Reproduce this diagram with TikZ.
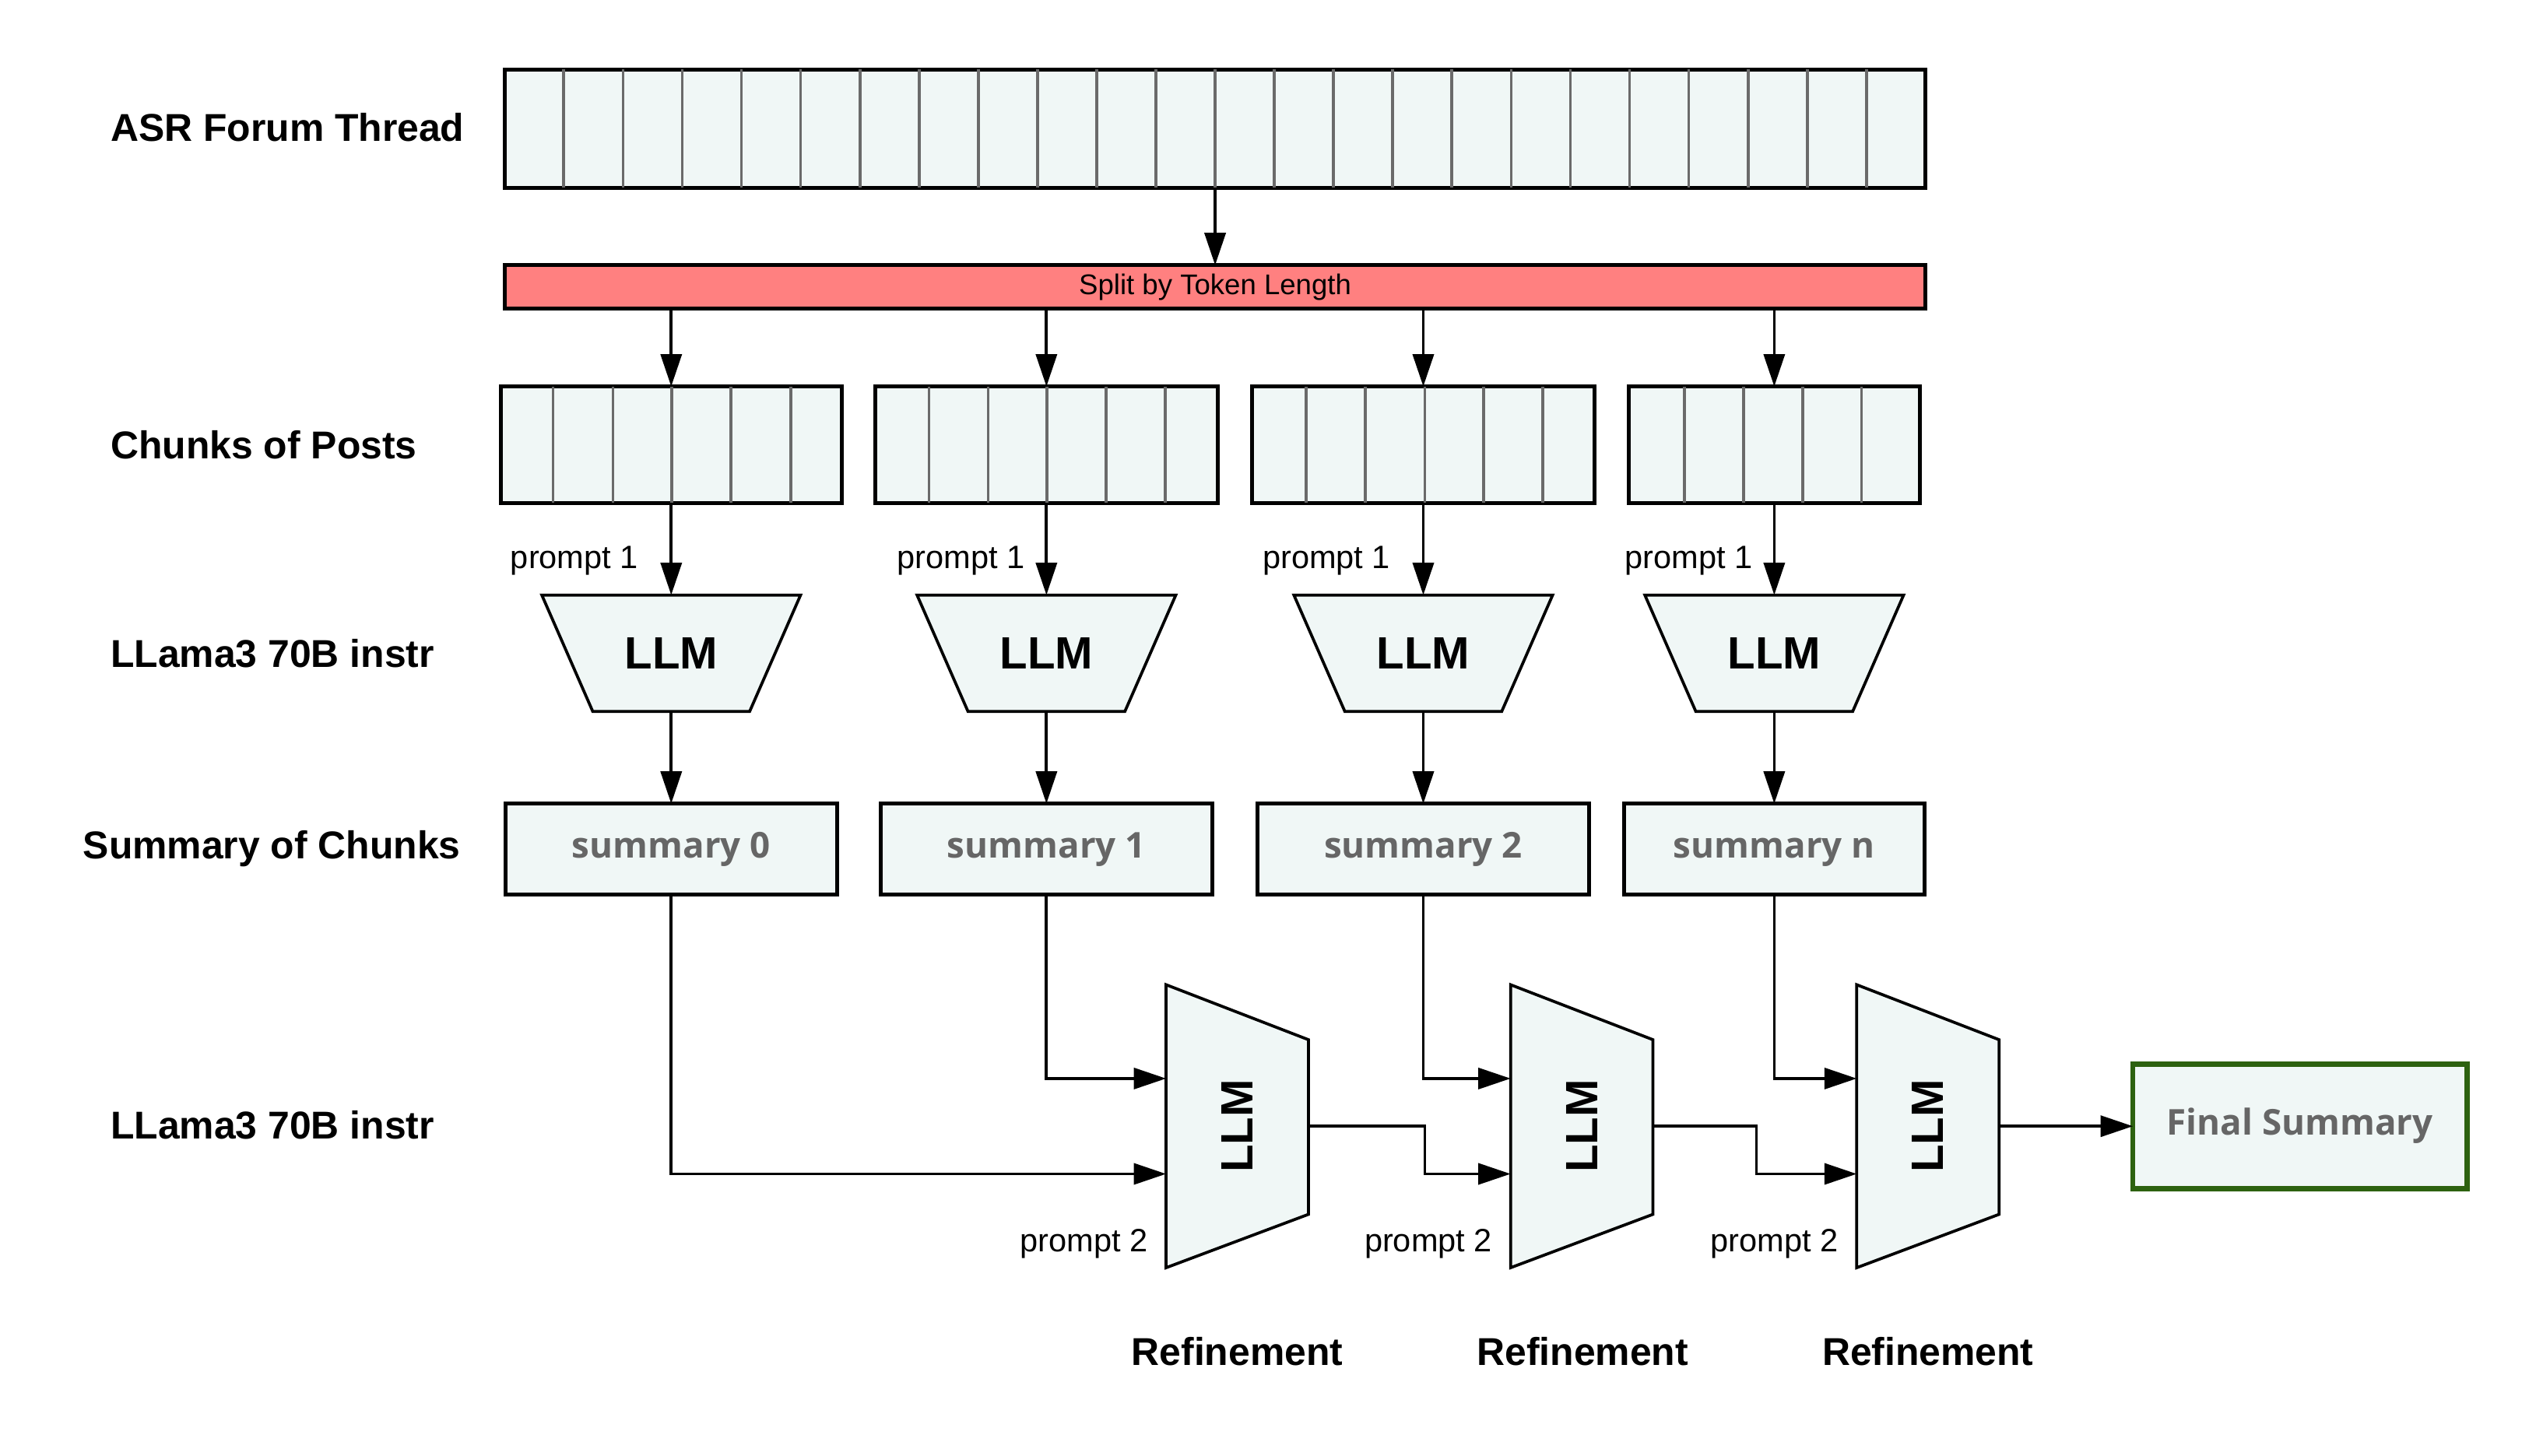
\documentclass[tikz,border=0pt]{standalone}
\usepackage{fontspec}
\usepackage{graphicx}
\setmainfont{Liberation Sans}
\newfontfamily\osans{Open Sans}
\usetikzlibrary{arrows.meta,calc,backgrounds}
\definecolor{cellfill}{HTML}{F0F7F6}
\definecolor{splitred}{HTML}{FF8080}
\definecolor{greytext}{HTML}{666666}
\definecolor{divgrey}{HTML}{6A6A6A}
\definecolor{finalgreen}{HTML}{2D6210}
\begin{document}
\begin{tikzpicture}[x=0.5pt,y=-0.5pt,
  box/.style={draw=black,line width=1.2pt,fill=cellfill,inner sep=0pt,outer sep=0pt},
  divline/.style={draw=divgrey,line width=0.9pt},
  arr/.style={draw=black,line width=0.9pt,-{Triangle[length=10pt,width=6.5pt]}},
  llmshape/.style={draw=black,line width=0.9pt,fill=cellfill,line join=miter},
  hollow/.style={inner sep=0pt,outer sep=0pt},
  rowlabel/.style={anchor=west,inner sep=0pt,font=\bfseries\fontsize{12}{14}\selectfont},
  plabel/.style={anchor=east,inner sep=0pt,font=\fontsize{10}{12}\selectfont},
  llmtext/.style={font=\bfseries\fontsize{14}{16}\selectfont},
  sumbox/.style={box,minimum height=28pt,font=\osans\bfseries\fontsize{11}{13}\selectfont,text=greytext,text height=8pt,text depth=2.5pt},
  reflabel/.style={inner sep=0pt,font=\bfseries\fontsize{12}{14}\selectfont}
]
\useasboundingbox (0,0) rectangle (1568,900);

% row labels
\node[rowlabel] (lab1) at (68,79) {ASR Forum Thread};
\node[rowlabel] (lab2) at (68,275) {Chunks of Posts};
\node[rowlabel] (lab3) at (68,404) {LLama3 70B instr};
\node[rowlabel] (lab4) at (51,525) {Summary of Chunks};
\node[rowlabel] (lab5) at (68,696) {LLama3 70B instr};

% top thread box
\node[box,minimum width=439.3pt,minimum height=36.5pt] (T) at (751.3,79.5) {};
\foreach \k in {1,...,23} {
  \draw[divline] ({312+\k*36.608},43) -- ({312+\k*36.608},116);
}

% split bar
\node[box,fill=splitred,minimum width=439.3pt,minimum height=13.5pt,font=\fontsize{8.8}{10}\selectfont] (SP) at (751.3,177.5) {Split by Token Length};

% chunks
\node[box,minimum width=105.5pt,minimum height=36pt] (C1) at (415,275) {};
\node[box,minimum width=106pt,minimum height=36pt] (C2) at (647,275) {};
\node[box,minimum width=106pt,minimum height=36pt] (C3) at (880,275) {};
\node[box,minimum width=90pt,minimum height=36pt] (C4) at (1097,275) {};
\foreach \xx in {342,379,415.4,452,489, 574.4,611,647.3,684,720.6, 807.5,844,881,917.4,954, 1041.4,1078,1114.5,1151} {
  \draw[divline] (\xx,239) -- (\xx,311);
}

% top LLMs
\foreach \nm/\xx in {L1/415,L2/647,L3/880,L4/1097} {
  \node[hollow,minimum width=80pt,minimum height=36pt,llmtext] (\nm) at (\xx,404) {LLM};
}
\begin{scope}[on background layer]
\foreach \nm in {L1,L2,L3,L4} {
  \draw[llmshape] (\nm.north west) -- (\nm.north east) -- ($(\nm.south east)+(-15.75pt,0)$) -- ($(\nm.south west)+(15.75pt,0)$) -- cycle;
}
\end{scope}

% summaries
\node[sumbox,minimum width=102.5pt] (S0) at (415,525) {summary 0};
\node[sumbox,minimum width=102.5pt] (S1) at (647,525) {summary 1};
\node[sumbox,minimum width=102.5pt] (S2) at (880,525) {summary 2};
\node[sumbox,minimum width=93pt] (S3) at (1097,525) {summary n};

% bottom refinement LLMs
\foreach \nm/\xx in {B1/765,B2/978,B3/1192} {
  \node[hollow,minimum width=44pt,minimum height=87.5pt,llmtext] (\nm) at (\xx,696.5) {\rotatebox{90}{LLM}};
}
\begin{scope}[on background layer]
\foreach \nm in {B1,B2,B3} {
  \draw[llmshape] (\nm.north west) -- ($(\nm.north east)+(0,-17pt)$) -- ($(\nm.south east)+(0,16.5pt)$) -- (\nm.south west) -- cycle;
}
\end{scope}

% final summary
\node[box,draw=finalgreen,line width=1.6pt,minimum width=103.25pt,minimum height=38.5pt,font=\osans\bfseries\fontsize{11}{13}\selectfont,text=greytext,text height=8pt,text depth=2.5pt] (F) at (1422,696.5) {Final Summary};

% prompt labels
\node[plabel] (p11) at (395,347) {prompt 1};
\node[plabel] (p12) at (634,347) {prompt 1};
\node[plabel] (p13) at (860,347) {prompt 1};
\node[plabel] (p14) at (1084,347) {prompt 1};
\node[plabel] (p21) at (710,769) {prompt 2};
\node[plabel] (p22) at (923,769) {prompt 2};
\node[plabel] (p23) at (1137,769) {prompt 2};

% refinement labels
\node[reflabel] (r1) at (765,836) {Refinement};
\node[reflabel] (r2) at (978.5,836) {Refinement};
\node[reflabel] (r3) at (1192,836) {Refinement};

% connectors
\draw[arr] (T.south) -- (SP.north);
\foreach \c in {C1,C2,C3,C4} {
  \draw[arr] (SP.south -| \c.north) -- (\c.north);
}
\draw[arr] (C1.south) -- (L1.north);
\draw[arr] (C2.south) -- (L2.north);
\draw[arr] (C3.south) -- (L3.north);
\draw[arr] (C4.south) -- (L4.north);
\draw[arr] (L1.south) -- (S0.north);
\draw[arr] (L2.south) -- (S1.north);
\draw[arr] (L3.south) -- (S2.north);
\draw[arr] (L4.south) -- (S3.north);

\draw[arr] (S0.south) |- ($(B1.west)+(0,-14.75pt)$);
\draw[arr] (S1.south) |- ($(B1.west)+(0,14.75pt)$);
\draw[arr] (S2.south) |- ($(B2.west)+(0,14.75pt)$);
\draw[arr] (S3.south) |- ($(B3.west)+(0,14.75pt)$);
\draw[arr] (B1.east) -- ++(36pt,0) |- ($(B2.west)+(0,-14.75pt)$);
\draw[arr] (B2.east) -- ++(32pt,0) |- ($(B3.west)+(0,-14.75pt)$);
\draw[arr] (B3.east) -- (F.west);
\end{tikzpicture}
\end{document}
